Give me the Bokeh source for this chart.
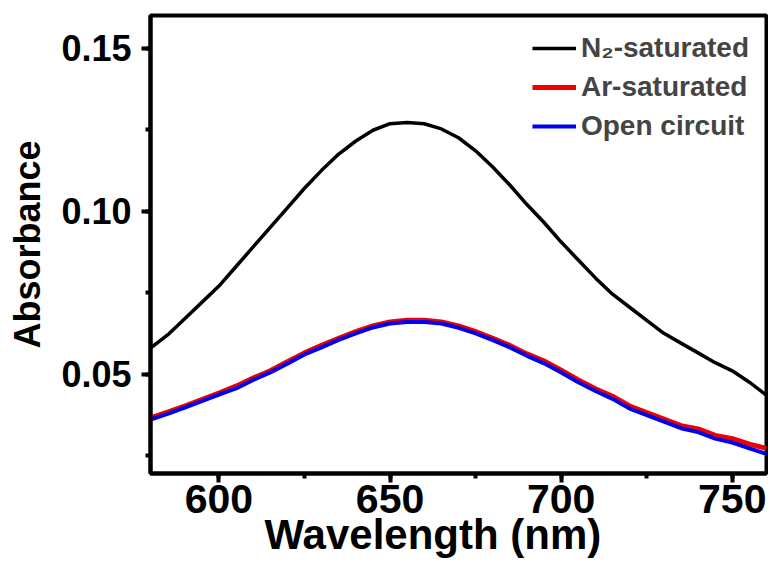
from bokeh.plotting import figure
from bokeh.models import (Range1d, SingleIntervalTicker, PrintfTickFormatter, Legend,
                          LegendItem, Title)
from bokeh.embed import file_html
from bokeh.resources import INLINE

wavelength = [580, 585, 590, 595, 600, 605, 610, 615, 620, 625, 630, 635, 640, 645, 650, 655,
              660, 665, 670, 675, 680, 685, 690, 695, 700, 705, 710, 715, 720, 725, 730, 735,
              740, 745, 750, 755, 760]
n2_saturated = [0.058, 0.062, 0.067, 0.072, 0.077, 0.083, 0.089, 0.095, 0.101, 0.107, 0.1125,
                0.1175, 0.1215, 0.1248, 0.1268, 0.1272, 0.1268, 0.1252, 0.1225, 0.1185, 0.1135,
                0.108, 0.102, 0.0965, 0.0905, 0.085, 0.0795, 0.0745, 0.0705, 0.0665, 0.0625,
                0.0595, 0.0565, 0.0535, 0.051, 0.0475, 0.0435]
ar_saturated = [0.0365, 0.0383, 0.0402, 0.0422, 0.0442, 0.0463, 0.0488, 0.051, 0.0538, 0.0565,
                0.0588, 0.061, 0.063, 0.0648, 0.066, 0.0665, 0.0665, 0.066, 0.0648, 0.063, 0.061,
                0.0588, 0.0562, 0.054, 0.0512, 0.0482, 0.0455, 0.0432, 0.0402, 0.0382, 0.0362,
                0.0342, 0.0332, 0.0312, 0.0302, 0.0285, 0.0272]
open_circuit = [0.036, 0.0378, 0.0397, 0.0417, 0.0437, 0.0456, 0.0482, 0.0505, 0.0532, 0.056,
                0.0582, 0.0605, 0.0625, 0.0643, 0.0655, 0.066, 0.066, 0.0655, 0.0642, 0.0625,
                0.0604, 0.0582, 0.0556, 0.0533, 0.0505, 0.0475, 0.0448, 0.0424, 0.0394, 0.0374,
                0.0354, 0.0334, 0.0322, 0.0302, 0.029, 0.0272, 0.0255]
labels = ["N\u2082-saturated", "Ar-saturated", "Open circuit"]
colors = ["black", "#ee0000", "#0000ee"]
x_title = "Wavelength (nm)"
y_title = "Absorbance"

FONT = "Liberation Sans"

p = figure(width=768, height=563, output_backend="svg", toolbar_location=None,
           x_range=Range1d(580, 760), y_range=Range1d(0.0195, 0.16),
           min_border_left=150, min_border_top=15, min_border_right=2, min_border_bottom=90)
p.background_fill_color = "white"
p.border_fill_color = "white"
p.grid.visible = False
p.outline_line_color = "black"
p.outline_line_width = 4

r_n2 = p.line(wavelength, n2_saturated, line_color=colors[0], line_width=3.5)
r_ar = p.line(wavelength, ar_saturated, line_color=colors[1], line_width=5)
r_oc = p.line(wavelength, open_circuit, line_color=colors[2], line_width=4)

p.xaxis.ticker = SingleIntervalTicker(interval=50, num_minor_ticks=2)
p.yaxis.ticker = SingleIntervalTicker(interval=0.05, num_minor_ticks=2)
p.yaxis.formatter = PrintfTickFormatter(format="%.2f")

for ax in (p.xaxis[0], p.yaxis[0]):
    ax.axis_line_width = 4
    ax.axis_line_color = "black"
    ax.major_tick_line_width = 4
    ax.minor_tick_line_width = 4
    ax.major_tick_out = 9
    ax.major_tick_in = 0
    ax.minor_tick_out = 5
    ax.minor_tick_in = 0
    ax.major_label_text_font = FONT
    ax.major_label_text_font_style = "bold"
    ax.major_label_text_color = "black"
    ax.axis_label_text_font = FONT
    ax.axis_label_text_font_style = "bold"
    ax.axis_label_text_color = "black"

p.yaxis.axis_label = y_title
p.xaxis.major_label_text_font_size = "41px"
p.yaxis.major_label_text_font_size = "36px"
p.yaxis.axis_label_text_font_size = "36px"
p.xaxis.major_label_standoff = 2
p.yaxis.major_label_standoff = 10
p.yaxis.axis_label_standoff = 10

xtitle = Title(text=x_title, align="left", offset=114, standoff=-14,
               text_font=FONT, text_font_style="bold", text_font_size="42px",
               text_color="black")
p.add_layout(xtitle, "below")

legend = Legend(items=[LegendItem(label=labels[0], renderers=[r_n2]),
                       LegendItem(label=labels[1], renderers=[r_ar]),
                       LegendItem(label=labels[2], renderers=[r_oc])],
                location="top_right")
legend.border_line_color = None
legend.background_fill_alpha = 0
legend.label_text_font = FONT
legend.label_text_font_style = "bold"
legend.label_text_font_size = "28px"
legend.label_height = 30
legend.glyph_height = 30
legend.glyph_width = 44
legend.label_standoff = 5
legend.spacing = 7
legend.margin = 17
legend.padding = 13
p.add_layout(legend)

open("out.html", "w").write(file_html(p, INLINE))
